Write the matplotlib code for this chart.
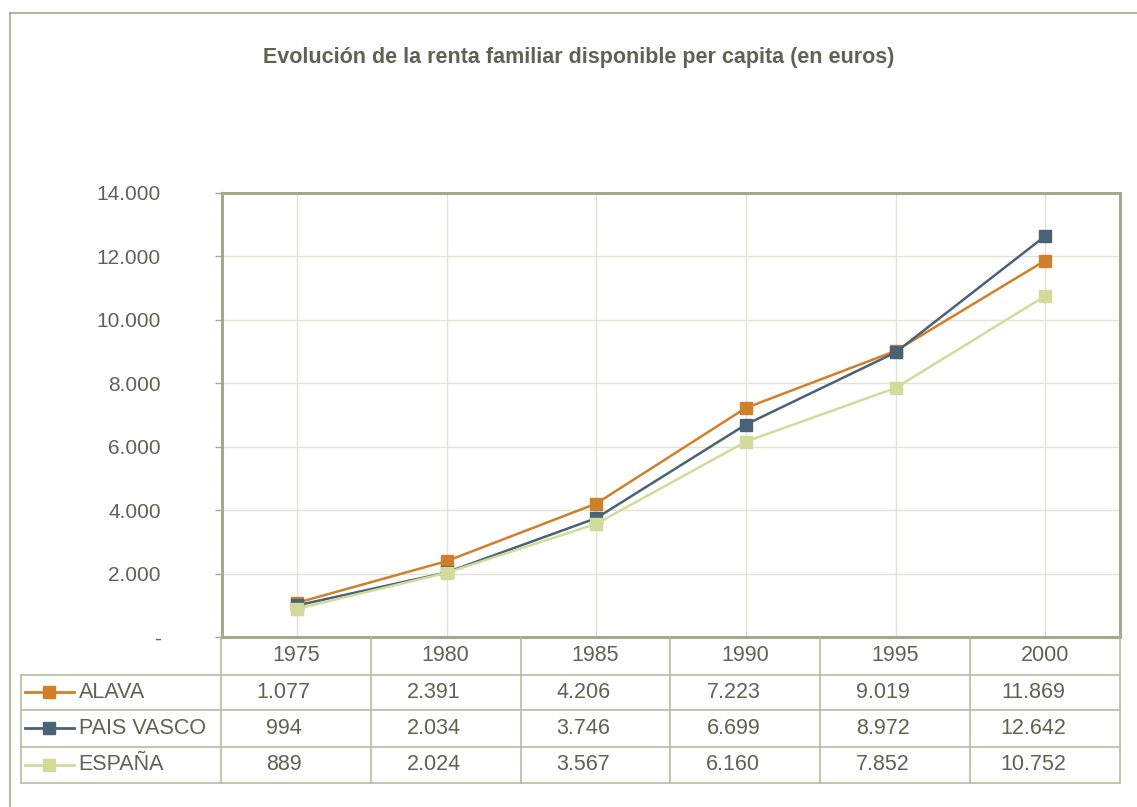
import numpy as np
import matplotlib.pyplot as plt
from matplotlib.lines import Line2D

plt.rcParams['font.family'] = ['Liberation Sans', 'DejaVu Sans']

years = ["1975", "1980", "1985", "1990", "1995", "2000"]
series_names = ["ALAVA", "PAIS VASCO", "ESPAÑA"]
alava = [1077, 2391, 4206, 7223, 9019, 11869]
pais_vasco = [994, 2034, 3746, 6699, 8972, 12642]
espana = [889, 2024, 3567, 6160, 7852, 10752]
y_ticks = [0, 2000, 4000, 6000, 8000, 10000, 12000, 14000]

colors = ["#D07F2A", "#4A6275", "#D3DB9B"]
text_col = "#5E6353"
frame_col = "#A3A98A"
grid_col = "#E1E4D3"
table_col = "#B7BCA0"

W, H = 1137, 807
fig = plt.figure(figsize=(W / 100, H / 100), dpi=100)


def box(x0, y0, x1, y1):
    # pixel box (top-left origin) -> figure fraction rect
    return [x0 / W, 1 - y1 / H, (x1 - x0) / W, (y1 - y0) / H]


def fmt(v):
    if v == 0:
        return "-"
    return f"{v:,}".replace(",", ".")


# outer border (cropped at right / bottom)
fig.add_artist(Line2D([10 / W, 10 / W], [0, 1 - 13 / H], color=frame_col, lw=1.2))
fig.add_artist(Line2D([10 / W, 1], [1 - 13 / H, 1 - 13 / H], color=frame_col, lw=1.2))

fig.text(579 / W, 1 - 58 / H, "Evolución de la renta familiar disponible per capita (en euros)",
         ha="center", va="center", fontsize=15.5, fontweight="bold", color=text_col)

# main plot
ax = fig.add_axes(box(222, 193, 1120, 637))
x = np.arange(len(years))
all_series = [alava, pais_vasco, espana]
for vals, c, name in zip(all_series, colors, series_names):
    ax.plot(x, vals, color=c, lw=1.8, marker="s", ms=8, mec=c, mfc=c, label=name, zorder=3)

ax.set_xlim(-0.5, len(years) - 0.5)
ax.set_ylim(0, 14000)
ax.set_yticks(y_ticks)
ax.set_yticklabels([fmt(v) for v in y_ticks], fontsize=15, color=text_col)
ax.set_xticks(x)
ax.tick_params(axis="x", length=0, labelbottom=False)
ax.tick_params(axis="y", direction="out", length=5, width=1, color=frame_col, pad=39)
for lbl in ax.get_yticklabels():
    lbl.set_horizontalalignment("right")
ax.grid(True, color=grid_col, lw=1)
ax.set_axisbelow(True)
for s in ax.spines.values():
    s.set_color(frame_col)
    s.set_linewidth(2.2)

# data table below the plot
tab = fig.add_axes(box(21, 637, 1120, 783))
tab.set_xlim(-4 / 3, len(years))
tab.set_ylim(4, 0)
tab.axis("off")
row_edges = [0, 1.03, 2.0, 3.0, 4.0]
row_mid = [(row_edges[i] + row_edges[i + 1]) / 2 for i in range(4)]

for i, yr in enumerate(years):
    tab.text(i + 0.5, row_mid[0], yr, ha="center", va="center", fontsize=15.5, color=text_col)
    for r, vals in enumerate(all_series):
        tab.text(i + 0.42, row_mid[r + 1], fmt(vals[i]), ha="center", va="center",
                 fontsize=15.5, color=text_col)

for r, (name, c) in enumerate(zip(series_names, colors)):
    ym = row_mid[r + 1]
    tab.plot([-4 / 3 + 0.03, -4 / 3 + 0.355], [ym, ym], color=c, lw=2, clip_on=False)
    tab.plot([-4 / 3 + 0.19], [ym], marker="s", ms=8, color=c, clip_on=False)
    tab.text(-4 / 3 + 0.385, ym, name, ha="left", va="center", fontsize=15.5, color=text_col)

# grid lines of the table
for i in range(len(years) + 1):
    tab.plot([i, i], [0, 4], color=table_col, lw=1.2, clip_on=False)
tab.plot([-4 / 3, -4 / 3], [row_edges[1], 4], color=table_col, lw=1.2, clip_on=False)
for yv in row_edges[1:]:
    tab.plot([-4 / 3, len(years)], [yv, yv], color=table_col, lw=1.2, clip_on=False)

fig.savefig("out.png", dpi=100)
